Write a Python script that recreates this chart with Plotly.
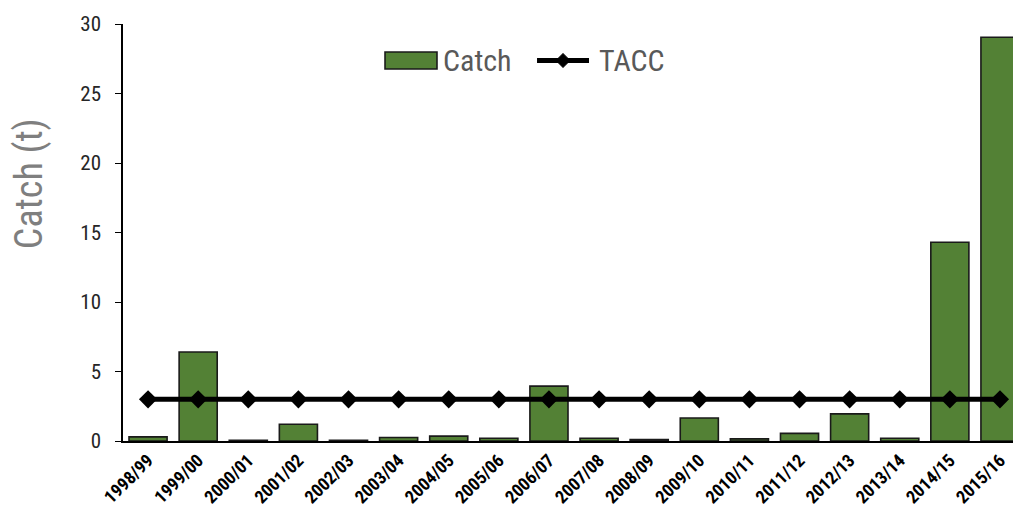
import plotly.graph_objects as go

seasons = ["1998/99", "1999/00", "2000/01", "2001/02", "2002/03", "2003/04", "2004/05",
           "2005/06", "2006/07", "2007/08", "2008/09", "2009/10", "2010/11", "2011/12",
           "2012/13", "2013/14", "2014/15", "2015/16"]
catch = [0.3, 6.4, 0.05, 1.2, 0.05, 0.25, 0.35, 0.2, 3.95, 0.2, 0.1, 1.65, 0.15, 0.55,
         1.95, 0.2, 14.3, 29.05]
tacc = [3] * len(seasons)

FONT = "Liberation Sans Narrow, Arial Narrow, Roboto Condensed, Liberation Sans, sans-serif"
GREEN = "#538135"

fig = go.Figure()
fig.add_trace(go.Bar(x=seasons, y=catch, name="Catch",
                     marker=dict(color=GREEN, line=dict(color="#1a1a1a", width=1.6))))
fig.add_trace(go.Scatter(x=seasons, y=tacc, name="TACC", mode="lines+markers",
                         line=dict(color="black", width=5), cliponaxis=False,
                         marker=dict(symbol="diamond", size=14, color="black")))

# custom legend (paper coordinates)
shapes = [
    dict(type="rect", xref="paper", yref="paper", x0=0.2944, x1=0.3528, y0=0.892, y1=0.933,
         fillcolor=GREEN, line=dict(color="#1a1a1a", width=1.6)),
    dict(type="line", xref="paper", yref="paper", x0=0.4652, x1=0.5236, y0=0.9125, y1=0.9125,
         line=dict(color="black", width=5)),
    dict(type="path", xref="paper", yref="paper",
         path="M 0.4865 0.9125 L 0.4944 0.9293 L 0.5023 0.9125 L 0.4944 0.8957 Z",
         fillcolor="black", line=dict(color="black", width=1)),
]
annotations = [
    dict(text="Catch", xref="paper", yref="paper", x=0.3573, y=0.9125, xanchor="left",
         yanchor="middle", showarrow=False, font=dict(size=30, color="#595959", family=FONT)),
    dict(text="TACC", xref="paper", yref="paper", x=0.5326, y=0.9125, xanchor="left",
         yanchor="middle", showarrow=False, font=dict(size=30, color="#595959", family=FONT)),
    dict(text="Catch (t)", xref="paper", yref="paper", x=-0.106, y=0.6175, xanchor="center",
         yanchor="middle", textangle=-90, showarrow=False,
         font=dict(size=38, color="#7f7f7f", family=FONT)),
]

fig.update_layout(
    width=1013, height=511,
    margin=dict(l=123, r=0, t=24, b=70),
    plot_bgcolor="white", paper_bgcolor="white",
    bargap=0.24,
    font=dict(family=FONT, color="#333333"),
    showlegend=False,
    shapes=shapes,
    annotations=annotations,
)
fig.update_xaxes(showline=True, linecolor="black", linewidth=1.5, ticks="",
                 tickangle=-45, tickfont=dict(size=18, color="black", family=FONT, weight="bold"),
                 showgrid=False, range=[-0.5, 17.26])
fig.update_yaxes(range=[0, 30], dtick=5, showline=True, linecolor="black", linewidth=1.5,
                 ticks="outside", ticklen=6, tickcolor="black", showgrid=False, zeroline=False,
                 ticklabelstandoff=10,
                 tickfont=dict(size=21, color="#262626", family=FONT))

fig.write_html("out.html")
